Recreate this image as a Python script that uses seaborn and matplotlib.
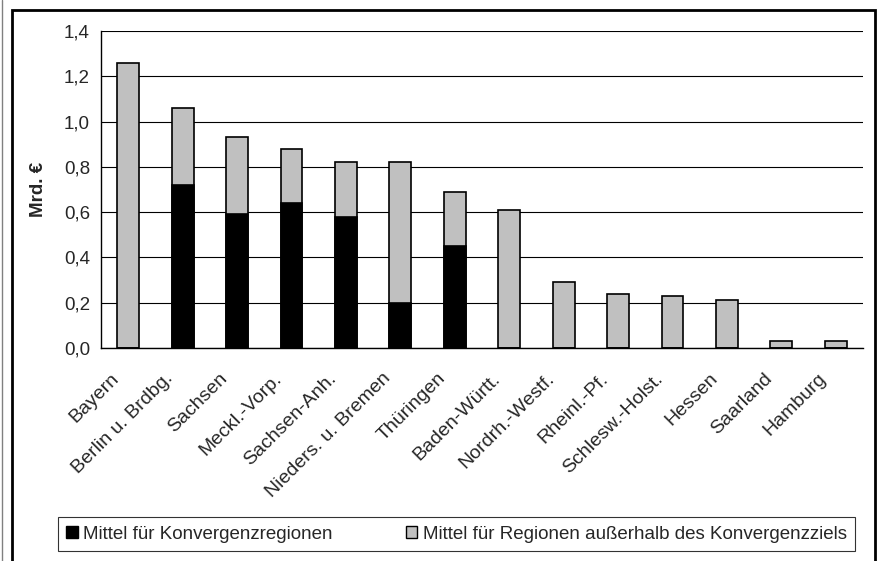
import numpy as np
import pandas as pd
import matplotlib
matplotlib.use('Agg')
import matplotlib.pyplot as plt
import matplotlib.transforms as mtransforms
import seaborn as sns
from matplotlib.patches import Rectangle, Patch
from matplotlib.lines import Line2D

# Data (Mrd. €)
laender = ['Bayern', 'Berlin u. Brdbg.', 'Sachsen', 'Meckl.-Vorp.', 'Sachsen-Anh.',
           'Nieders. u. Bremen', 'Thüringen', 'Baden-Württ.', 'Nordrh.-Westf.',
           'Rheinl.-Pf.', 'Schlesw.-Holst.', 'Hessen', 'Saarland', 'Hamburg']
konvergenz = [0.00, 0.72, 0.59, 0.64, 0.58, 0.20, 0.45, 0.00, 0.00, 0.00, 0.00, 0.00, 0.00, 0.00]
ausserhalb = [1.26, 0.34, 0.34, 0.24, 0.24, 0.62, 0.24, 0.61, 0.29, 0.24, 0.23, 0.21, 0.03, 0.03]
y_ticks = [0.0, 0.2, 0.4, 0.6, 0.8, 1.0, 1.2, 1.4]
y_ticklabels = ['0,0', '0,2', '0,4', '0,6', '0,8', '1,0', '1,2', '1,4']
label_konv = 'Mittel für Konvergenzregionen'
label_ausser = 'Mittel für Regionen außerhalb des Konvergenzziels'

df = pd.DataFrame({'land': laender, 'konv': konvergenz, 'ausser': ausserhalb})
df['gesamt'] = df['konv'] + df['ausser']

sns.set_style('white')
plt.rcParams['font.family'] = ['Liberation Sans', 'DejaVu Sans']
fs = 13.5

fig = plt.figure(figsize=(8.81, 5.61), dpi=100)
ax = fig.add_axes([101 / 881, 1 - 348 / 561, (863 - 101) / 881, (348 - 31) / 561])

# gray = full stack height, black = Konvergenz part drawn over it
sns.barplot(data=df, x='land', y='gesamt', color='#c0c0c0', edgecolor='black',
            linewidth=1.2, width=0.4, saturation=1, ax=ax, zorder=3)
sns.barplot(data=df, x='land', y='konv', color='black', edgecolor='black',
            linewidth=1.2, width=0.4, saturation=1, ax=ax, zorder=4)

ax.set_xlim(-0.5, len(laender) - 0.5)
ax.set_ylim(0, 1.4)
ax.set_yticks(y_ticks)
ax.set_yticklabels(y_ticklabels, fontsize=fs)
ax.yaxis.grid(True, color='black', linewidth=0.8, zorder=0)
ax.set_axisbelow(True)

# category labels placed like Excel: right end slightly left of and below the slot centre
ax.set_xticks(range(len(laender)))
ax.set_xticklabels([])
shift = mtransforms.ScaledTranslation(-12 / 100, -28 / 100, fig.dpi_scale_trans)
for i, name in enumerate(laender):
    ax.text(i, 0, name, transform=ax.get_xaxis_transform() + shift, rotation=45,
            ha='right', va='center', rotation_mode='anchor', fontsize=14, clip_on=False)
ax.set_xticks(np.arange(-0.5, len(laender), 1), minor=True)
ax.tick_params(axis='x', which='major', length=0)
ax.tick_params(axis='x', which='minor', length=5, width=1, color='black', direction='out')
ax.tick_params(axis='y', length=5, width=1, color='black', direction='out', pad=3)

ax.set_xlabel('')
ax.set_ylabel('Mrd. €', fontsize=fs, fontweight='bold', labelpad=12)

for s in ['top', 'right']:
    ax.spines[s].set_visible(False)
for s in ['left', 'bottom']:
    ax.spines[s].set_color('black')
    ax.spines[s].set_linewidth(1)

handles = [Patch(facecolor='black', edgecolor='black', label=label_konv),
           Patch(facecolor='#c0c0c0', edgecolor='black', label=label_ausser)]
leg = fig.legend(handles=handles, loc='lower left',
                 bbox_to_anchor=(58 / 881, 1 - 551 / 561, (855 - 58) / 881, 34 / 561),
                 mode='expand', ncol=2, frameon=True, fancybox=False, fontsize=fs,
                 handlelength=0.6, handleheight=0.6, handletextpad=0.3,
                 columnspacing=2.0, borderpad=0.45, borderaxespad=0, edgecolor='black')
leg.get_frame().set_linewidth(0.8)

# outer chart frame
fig.patches.append(Rectangle((12 / 881, -0.05), (875 - 12) / 881, (561 - 10) / 561 + 0.05,
                             transform=fig.transFigure, fill=False, edgecolor='black',
                             linewidth=2, clip_on=False))
fig.lines.append(Line2D([2 / 881, 2 / 881], [0, 1], transform=fig.transFigure,
                        color='#808080', linewidth=1))

fig.savefig('out.png', dpi=100)
plt.close(fig)
